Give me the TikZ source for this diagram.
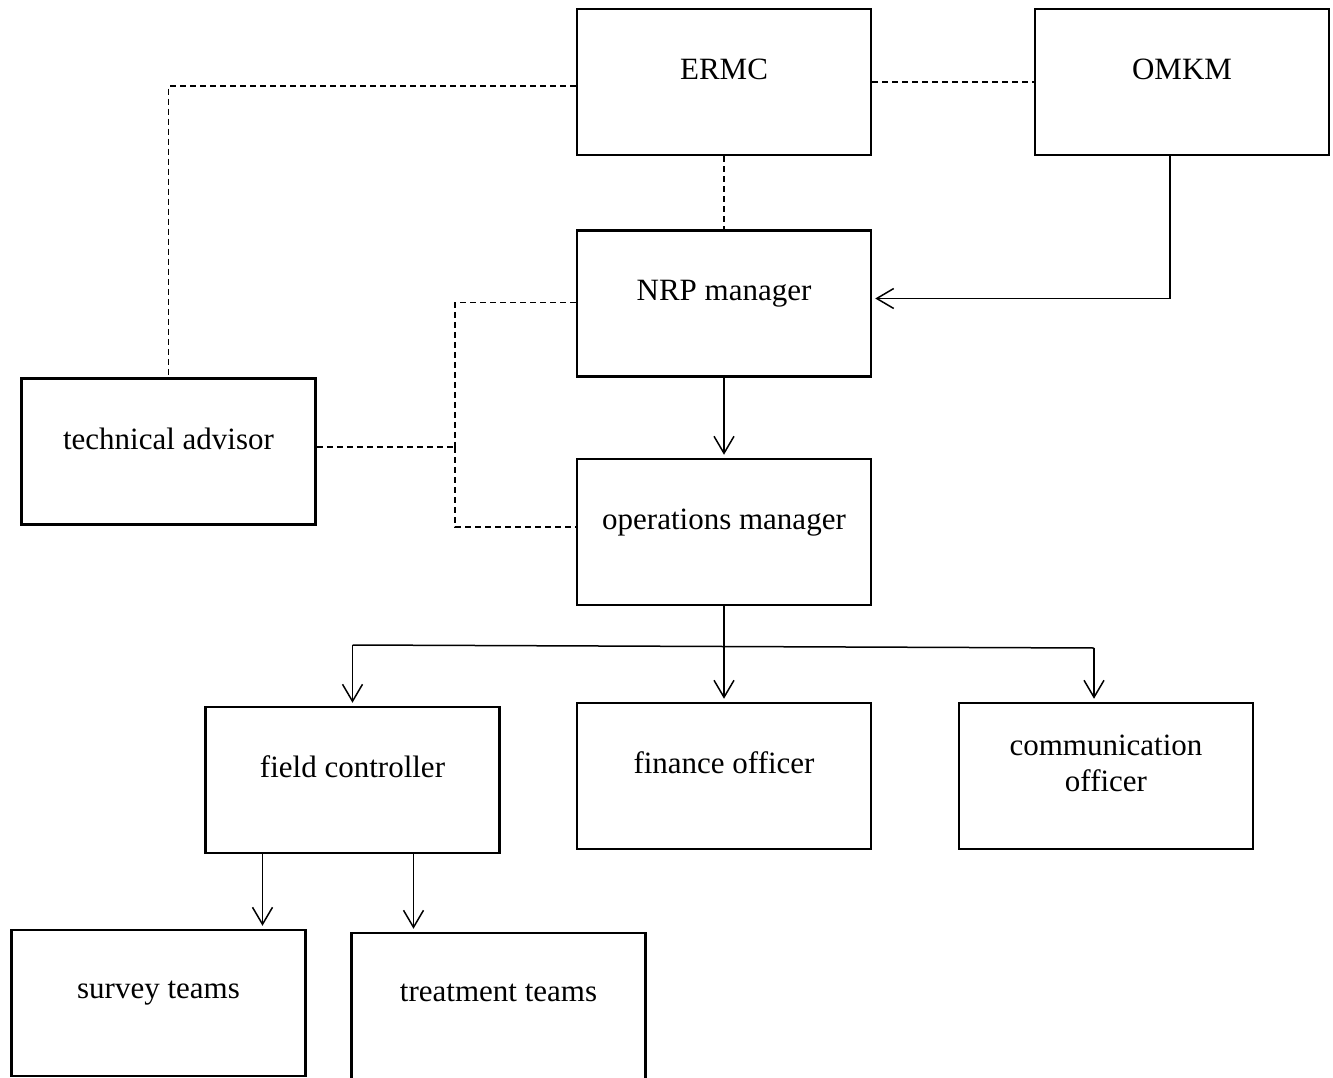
\documentclass[tikz,border=0pt]{standalone}
\usepackage{fontspec}
\setmainfont{Liberation Serif}
\usepackage{tikz}
\usetikzlibrary{arrows.meta}
\usetikzlibrary{positioning}
\tikzset{
	boxnode/.style={rectangle, draw=black, line width=2.5pt, minimum width=294pt, minimum height=146pt, align=center, text depth=26pt, font=\fontsize{31}{36}\selectfont},
	dashline/.style={line width=1.6pt, dash pattern=on 6pt off 4pt},
	arrowline/.style={line width=1.5pt, -{Straight Barb[length=17pt,width=20pt]}, shorten >=3pt}
}

\begin{document}
\begin{tikzpicture}[x=1pt,y=-1pt]
		\useasboundingbox (0,0) rectangle (1333,1078);
		\node[boxnode] at (724,82) (ERMC)    {ERMC};
		\node[boxnode] at (1182,82) (OMKM)    {OMKM};
		\node[boxnode] at (724,303.5) (NRP)    {NRP manager};
		\node[boxnode] at (168.5,451.5) (tech)    {technical advisor};
		\node[boxnode] at (724,532) (ops)    {operations manager};
		\node[boxnode] at (352.5,780) (field)    {field controller};
		\node[boxnode] at (724,776) (fin)    {finance officer};
		\node[boxnode] at (1106,776) (comm)    {communication\\officer};
		\node[boxnode] at (158.5,1003) (survey)    {survey teams};
		\node[boxnode] at (498.5,1006) (treat)    {treatment teams};
		\coordinate (jn) at (455,447);
		\coordinate (busL) at (352.5,645);
		\coordinate (busR) at (1094,648);
		% dashed links
		\draw[dashline] (ERMC.east) -- (OMKM.west);
		\draw[dashline] ([yshift=-4pt]ERMC.west) -| (tech.north);
		\draw[dashline] (ERMC.south) -- (NRP.north);
		\draw[dashline] ([yshift=1pt]NRP.west) -| (jn);
		\draw[dashline] (jn) |- ([yshift=5pt]ops.west);
		\draw[dashline] (tech.east |- jn) -- (jn);
		% reporting lines
		\draw[arrowline] ([xshift=-12pt]OMKM.south) |- ([yshift=5pt]NRP.east);
		\draw[arrowline] (NRP.south) -- (ops.north);
		\draw[arrowline] (ops.south) -- (fin.north);
		\draw[line width=1.5pt] (busL) -- (busR);
		\draw[arrowline] (busL) -- (field.north);
		\draw[arrowline] (busR) -- (busR |- comm.north);
		\draw[arrowline] ([xshift=-90pt]field.south) -- ([xshift=-90pt]field.south |- survey.north);
		\draw[arrowline] ([xshift=61pt]field.south) -- ([xshift=61pt]field.south |- treat.north);
	\end{tikzpicture}
\end{document}
